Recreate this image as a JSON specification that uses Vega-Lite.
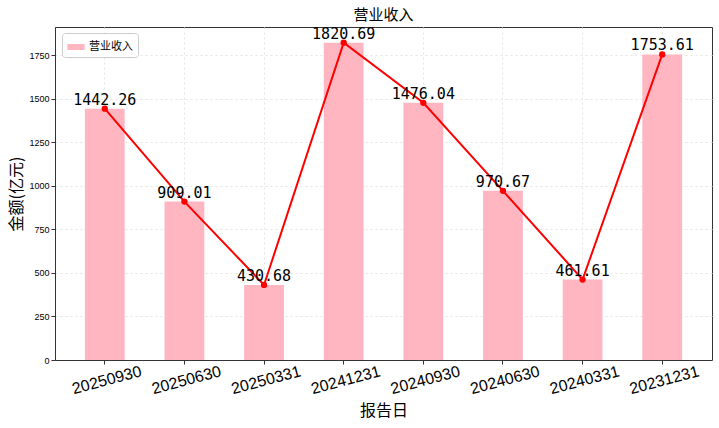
{
  "$schema": "https://vega.github.io/schema/vega-lite/v6.json",
  "autosize": {"type": "none"},
  "padding": {"left": 55, "top": 27, "right": 7, "bottom": 68},
  "width": 657,
  "height": 333,
  "background": "white",
  "config": {
    "font": "Noto Sans CJK SC",
    "view": {"stroke": "#333333", "strokeWidth": 1}
  },
  "title": {"text": "营业收入", "fontSize": 15, "fontWeight": "normal", "color": "#000000", "offset": 4, "font": "Noto Sans CJK SC"},
  "data": {
    "values": [
      {"date": "20250930", "value": 1442.26, "series": "营业收入"},
      {"date": "20250630", "value": 909.01, "series": "营业收入"},
      {"date": "20250331", "value": 430.68, "series": "营业收入"},
      {"date": "20241231", "value": 1820.69, "series": "营业收入"},
      {"date": "20240930", "value": 1476.04, "series": "营业收入"},
      {"date": "20240630", "value": 970.67, "series": "营业收入"},
      {"date": "20240331", "value": 461.61, "series": "营业收入"},
      {"date": "20231231", "value": 1753.61, "series": "营业收入"}
    ]
  },
  "encoding": {
    "x": {
      "field": "date", "type": "nominal", "sort": null,
      "scale": {"paddingInner": 0.5, "paddingOuter": 0.375},
      "axis": {
        "title": "报告日", "titleFontSize": 16, "titleFontWeight": "normal", "titleColor": "#000",
        "labelAngle": -15, "labelAlign": "center", "labelBaseline": "top", "labelFontSize": 16, "labelColor": "#000", "labelFont": "Liberation Sans",
        "bandPosition": 0.5, "grid": true, "gridDash": [2, 3], "gridColor": "#e4e4e4",
        "domainColor": "#333", "tickColor": "#333", "tickSize": 4, "labelPadding": 8, "titlePadding": 6
      }
    },
    "y": {
      "field": "value", "type": "quantitative",
      "scale": {"domain": [0, 1911], "nice": false},
      "axis": {
        "title": "金额(亿元)", "titleFontSize": 16, "titleFontWeight": "normal", "titleColor": "#000",
        "values": [0, 250, 500, 750, 1000, 1250, 1500, 1750], "format": "d",
        "labelFontSize": 9, "labelColor": "#000", "labelFont": "Liberation Sans",
        "grid": true, "gridDash": [2, 3], "gridColor": "#e4e4e4",
        "domainColor": "#333", "tickColor": "#333", "tickSize": 4, "titlePadding": 4
      }
    }
  },
  "layer": [
    {
      "mark": {"type": "bar", "opacity": 1},
      "encoding": {
        "color": {
          "field": "series", "type": "nominal",
          "scale": {"domain": ["营业收入"], "range": ["#FFB6C1"]},
          "legend": {
            "title": null, "orient": "none", "legendX": 7, "legendY": 6,
            "symbolType": "M-1,-0.35H1V0.35H-1Z", "symbolSize": 300, "symbolStrokeWidth": 0,
            "labelFontSize": 11, "labelColor": "#000",
            "strokeColor": "#cccccc", "fillColor": "white", "padding": 5, "cornerRadius": 3
          }
        }
      }
    },
    {
      "mark": {"type": "line", "color": "#FF0000", "strokeWidth": 2}
    },
    {
      "mark": {"type": "point", "filled": true, "color": "#FF0000", "size": 40, "opacity": 1}
    },
    {
      "mark": {"type": "text", "fontSize": 15, "font": "DejaVu Sans Mono", "baseline": "bottom", "dy": -1, "color": "#000"},
      "encoding": {"text": {"field": "value", "type": "quantitative", "format": ".2f"}}
    }
  ]
}
